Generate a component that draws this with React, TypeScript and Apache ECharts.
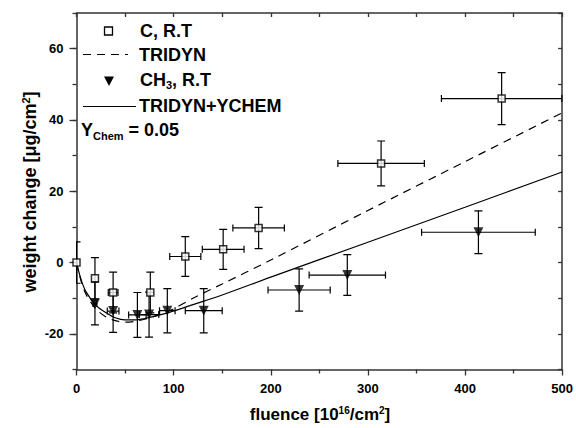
import React, { useEffect, useRef } from "react";
import * as echarts from "echarts";

// ---- data ----
const fluenceC = [0, 19, 37.7, 76, 112, 151, 187.5, 313.6, 437.7];
const weightC = [0, -4.4, -8.4, -8.4, 1.7, 3.7, 9.7, 27.8, 46];
const xErrC = [0, 0, 5, 0, 16, 21.5, 26.5, 44.5, 62];
const yErrC = [5.8, 5.8, 5.7, 5.7, 5.6, 5.6, 5.8, 6.3, 7.3];

const fluenceCH3 = [19, 37.7, 62.7, 74.7, 93.5, 131, 229.2, 278.8, 413.8];
const weightCH3 = [-11.5, -13.6, -14.7, -14.6, -13.5, -13.5, -7.7, -3.5, 8.5];
const xErrCH3 = [2, 6, 9, 10, 8, 19, 32, 39.3, 58.5];
const yErrCH3 = [6, 6, 6.3, 6.3, 6.2, 6.2, 5.9, 5.7, 6];

const curveX = [0, 5, 10, 20, 30, 40, 50, 60, 70, 80, 90, 100, 120, 150, 200, 300, 400, 500];
const tridyn = [0, -5.5, -9, -13, -15.2, -16.3, -16.7, -16.5, -15.9, -15.1, -14.1, -13, -10, -6, 0.7, 14.6, 28.3, 42];
const tridynYchem = [0, -5, -8.3, -12, -14, -15.5, -16.1, -16.1, -15.7, -15.1, -14.4, -13.6, -11.8, -9.1, -4.1, 5.7, 15.5, 25.4];

const xTicks = [0, 100, 200, 300, 400, 500];
const yMajorTicks = [-20, 0, 20, 40, 60];

const FONT = "'Liberation Sans', Arial, Helvetica, sans-serif";

function errorBarSeries(xs: number[], ys: number[], xe: number[], ye: number[]) {
  const data = xs.map((x, i) => [x, ys[i], xe[i], ye[i]]);
  return {
    type: "custom",
    xAxisIndex: 0,
    yAxisIndex: 0,
    z: 1,
    clip: true,
    data,
    renderItem: (params: any, api: any) => {
      const x = api.value(0);
      const y = api.value(1);
      const dx = api.value(2);
      const dy = api.value(3);
      const style = { stroke: "#000", lineWidth: 1.2 };
      const children: any[] = [];
      const top = api.coord([x, y + dy]);
      const bot = api.coord([x, y - dy]);
      const cap = 4;
      if (dy > 0) {
        children.push({ type: "line", shape: { x1: top[0], y1: top[1], x2: bot[0], y2: bot[1] }, style });
        children.push({ type: "line", shape: { x1: top[0] - cap, y1: top[1], x2: top[0] + cap, y2: top[1] }, style });
        children.push({ type: "line", shape: { x1: bot[0] - cap, y1: bot[1], x2: bot[0] + cap, y2: bot[1] }, style });
      }
      if (dx > 0) {
        const l = api.coord([x - dx, y]);
        const r = api.coord([Math.min(x + dx, 500), y]);
        children.push({ type: "line", shape: { x1: l[0], y1: l[1], x2: r[0], y2: r[1] }, style });
        children.push({ type: "line", shape: { x1: l[0], y1: l[1] - 3.5, x2: l[0], y2: l[1] + 3.5 }, style });
        children.push({ type: "line", shape: { x1: r[0], y1: r[1] - 3.5, x2: r[0], y2: r[1] + 3.5 }, style });
      }
      return { type: "group", children };
    },
  };
}

export default function App() {
  const ref = useRef<HTMLDivElement>(null);
  useEffect(() => {
    if (!ref.current) return;
    const chart = echarts.init(ref.current, undefined, { renderer: "svg" });
    const axisLineStyle = { color: "#333", width: 1.5 };
    const labelStyle = { fontSize: 13, fontWeight: "bold", color: "#000", fontFamily: FONT };
    const textBase = { fontFamily: FONT, fontWeight: "bold", fill: "#000" };
    chart.setOption({
      animation: false,
      backgroundColor: "#fff",
      grid: { left: 76.5, right: 12, top: 13, bottom: 58.5, containLabel: false },
      xAxis: [
        {
          type: "value",
          position: "bottom",
          min: 0,
          max: 500,
          interval: 100,
          axisLine: { show: true, onZero: false, lineStyle: axisLineStyle },
          axisTick: { show: true, length: 6, inside: false, lineStyle: { color: "#333", width: 1.3 } },
          minorTick: { show: true, splitNumber: 2, length: 4, lineStyle: { color: "#333", width: 1.3 } },
          axisLabel: { ...labelStyle, margin: 12, customValues: xTicks },
          splitLine: { show: false },
        },
        {
          type: "value",
          position: "top",
          min: 0,
          max: 500,
          interval: 50,
          axisLine: { show: true, onZero: false, lineStyle: axisLineStyle },
          axisTick: { show: true, length: 4, inside: true, lineStyle: { color: "#333", width: 1.3 } },
          axisLabel: { show: false },
          splitLine: { show: false },
        },
      ],
      yAxis: [
        {
          type: "value",
          position: "left",
          min: -30,
          max: 70,
          interval: 10,
          axisLine: { show: true, onZero: false, lineStyle: axisLineStyle },
          axisTick: { show: true, length: 7, inside: false, customValues: yMajorTicks, lineStyle: { color: "#333", width: 1.3 } },
          axisLabel: { ...labelStyle, margin: 13, customValues: yMajorTicks },
          splitLine: { show: false },
        },
        {
          type: "value",
          position: "left",
          min: -30,
          max: 70,
          interval: 10,
          axisLine: { show: false, onZero: false },
          axisTick: { show: true, length: 4, inside: false, lineStyle: { color: "#333", width: 1.3 } },
          axisLabel: { show: false },
          splitLine: { show: false },
        },
        {
          type: "value",
          position: "right",
          min: -30,
          max: 70,
          interval: 10,
          axisLine: { show: true, onZero: false, lineStyle: axisLineStyle },
          axisTick: { show: true, length: 4, inside: true, lineStyle: { color: "#333", width: 1.3 } },
          axisLabel: { show: false },
          splitLine: { show: false },
        },
      ],
      series: [
        errorBarSeries(fluenceC, weightC, xErrC, yErrC),
        errorBarSeries(fluenceCH3, weightCH3, xErrCH3, yErrCH3),
        {
          type: "line",
          name: "TRIDYN",
          xAxisIndex: 0,
          yAxisIndex: 0,
          data: curveX.map((x, i) => [x, tridyn[i]]),
          showSymbol: false,
          smooth: 0.3,
          z: 2,
          lineStyle: { color: "#000", width: 1.2, type: [8, 6] },
        },
        {
          type: "line",
          name: "TRIDYN+YCHEM",
          xAxisIndex: 0,
          yAxisIndex: 0,
          data: curveX.map((x, i) => [x, tridynYchem[i]]),
          showSymbol: false,
          smooth: 0.3,
          z: 2,
          lineStyle: { color: "#000", width: 1.2 },
        },
        {
          type: "scatter",
          name: "C, R.T",
          xAxisIndex: 0,
          yAxisIndex: 0,
          data: fluenceC.map((x, i) => [x, weightC[i]]),
          symbol: "rect",
          symbolSize: 7,
          z: 4,
          itemStyle: { color: "#fff", borderColor: "#000", borderWidth: 1.5 },
        },
        {
          type: "scatter",
          name: "CH3, R.T",
          xAxisIndex: 0,
          yAxisIndex: 0,
          data: fluenceCH3.map((x, i) => [x, weightCH3[i]]),
          symbol: "triangle",
          symbolRotate: 180,
          symbolSize: 10,
          z: 3,
          itemStyle: { color: "#000" },
        },
      ],
      graphic: [
        // legend
        { type: "rect", shape: { x: 104.5, y: 27, width: 8, height: 8 }, style: { fill: "#fff", stroke: "#000", lineWidth: 1.3 } },
        { type: "text", x: 140, y: 31, style: { ...textBase, text: "C, R.T", fontSize: 18, verticalAlign: "middle" } },
        { type: "line", shape: { x1: 83, y1: 54.5, x2: 128, y2: 54.5 }, style: { stroke: "#000", lineWidth: 1.2, lineDash: [8, 6] } },
        { type: "text", x: 139, y: 55, style: { ...textBase, text: "TRIDYN", fontSize: 18, verticalAlign: "middle" } },
        { type: "polygon", shape: { points: [[104, 76.5], [114, 76.5], [109, 86]] }, style: { fill: "#000" } },
        {
          type: "text",
          x: 140,
          y: 80,
          style: {
            ...textBase,
            text: "CH{sub|3}, R.T",
            fontSize: 18,
            verticalAlign: "middle",
            rich: { sub: { fontFamily: FONT, fontWeight: "bold", fontSize: 11, verticalAlign: "bottom", padding: [10, 0, 0, 0] } },
          },
        },
        { type: "line", shape: { x1: 83, y1: 106.5, x2: 136, y2: 106.5 }, style: { stroke: "#000", lineWidth: 1.2 } },
        { type: "text", x: 139, y: 106, style: { ...textBase, text: "TRIDYN+YCHEM", fontSize: 18, verticalAlign: "middle" } },
        {
          type: "text",
          x: 81,
          y: 130,
          style: {
            ...textBase,
            text: "Y{sub|Chem} = 0.05",
            fontSize: 18,
            verticalAlign: "middle",
            rich: { sub: { fontFamily: FONT, fontWeight: "bold", fontSize: 11, verticalAlign: "bottom", padding: [12, 0, 0, 0] } },
          },
        },
        // axis titles
        {
          type: "text",
          x: 320,
          y: 414,
          style: {
            ...textBase,
            text: "fluence [10{sup|16}/cm{sup|2}]",
            fontSize: 17,
            align: "center",
            verticalAlign: "middle",
            rich: { sup: { fontFamily: FONT, fontWeight: "bold", fontSize: 10, verticalAlign: "top", padding: [0, 0, 8, 0] } },
          },
        },
        {
          type: "text",
          x: 30,
          y: 192,
          rotation: Math.PI / 2,
          style: {
            ...textBase,
            text: "weight change [\u03bcg/cm{sup|2}]",
            fontSize: 18,
            align: "center",
            verticalAlign: "middle",
            rich: { sup: { fontFamily: FONT, fontWeight: "bold", fontSize: 11, verticalAlign: "top", padding: [0, 0, 8, 0] } },
          },
        },
      ],
    });
    return () => chart.dispose();
  }, []);
  return <div ref={ref} style={{ width: 576, height: 428, position: "fixed", left: 0, top: 0 }} />;
}
